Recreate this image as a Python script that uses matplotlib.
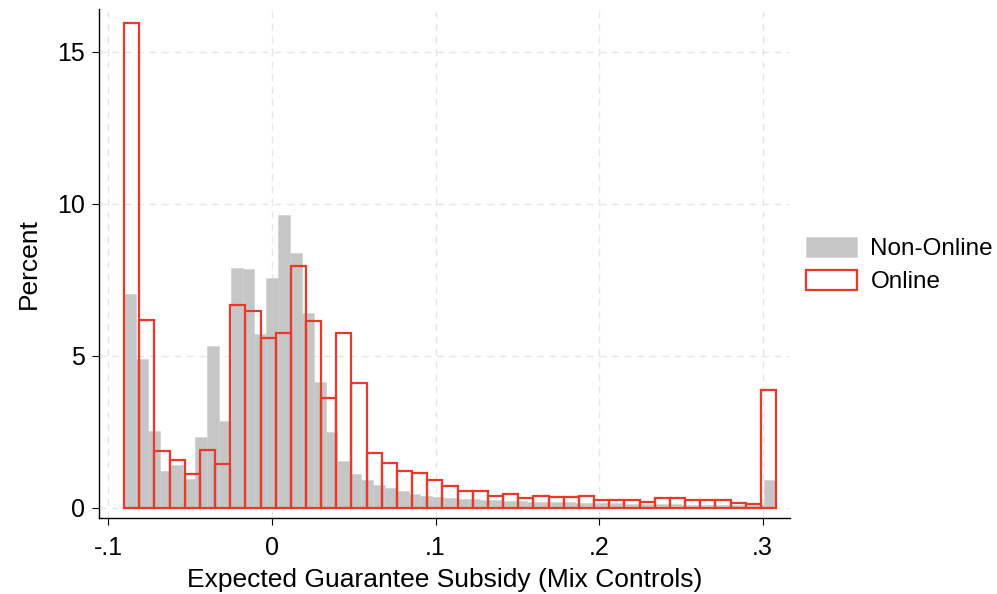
import numpy as np
import matplotlib
matplotlib.use("Agg")
import matplotlib.pyplot as plt

plt.rcParams['font.family'] = ['Liberation Sans', 'DejaVu Sans']

# histogram range (both series share roughly the same data range)
x_lo, x_hi = -0.0905, 0.3083

# Non-Online: 55 bins, percent
non_online = [7.02, 4.90, 2.54, 1.22, 1.42, 0.95, 2.34, 5.31, 2.85, 7.90,
              7.84, 5.70, 7.56, 9.63, 8.39, 6.41, 4.15, 2.48, 1.55, 1.13,
              0.92, 0.76, 0.64, 0.56, 0.47, 0.40, 0.36, 0.33, 0.30, 0.28,
              0.26, 0.25, 0.23, 0.22, 0.21, 0.20, 0.19, 0.18, 0.17, 0.16,
              0.15, 0.15, 0.14, 0.13, 0.13, 0.12, 0.12, 0.11, 0.11, 0.10,
              0.10, 0.09, 0.09, 0.08, 0.92]

# Online: 43 bins, percent
online = [15.95, 6.19, 1.86, 1.59, 1.11, 1.92, 1.44, 6.68, 6.47, 5.58,
          5.75, 7.95, 6.15, 3.61, 5.76, 4.09, 1.80, 1.47, 1.22, 1.16,
          0.91, 0.73, 0.56, 0.54, 0.40, 0.45, 0.33, 0.38, 0.36, 0.35,
          0.40, 0.26, 0.25, 0.25, 0.20, 0.32, 0.34, 0.26, 0.25, 0.26,
          0.17, 0.14, 3.89]

xticks = [-0.1, 0, 0.1, 0.2, 0.3]
xtick_labels = ["-.1", "0", ".1", ".2", ".3"]
yticks = [0, 5, 10, 15]

gray = "#c6c6c6"
red = "#e8392b"

fig = plt.figure(figsize=(9.97, 5.94), dpi=100)
ax = fig.add_axes([0.0993, 0.128, 0.6931, 0.857])

# non-online filled bars
edges_n = np.linspace(x_lo, x_hi, len(non_online) + 1)
ax.bar(edges_n[:-1], non_online, width=np.diff(edges_n), align='edge',
       color=gray, edgecolor="#cfcfcf", linewidth=0.4, label="Non-Online", zorder=2)

# online hollow bars
edges_o = np.linspace(x_lo, x_hi, len(online) + 1)
ax.bar(edges_o[:-1], online, width=np.diff(edges_o), align='edge',
       fill=False, edgecolor=red, linewidth=1.6, label="Online", zorder=3)

ax.set_xlim(-0.1058, 0.3168)
ax.set_ylim(-0.33, 16.4)
ax.set_xticks(xticks)
ax.set_xticklabels(xtick_labels)
ax.set_yticks(yticks)

ax.grid(True, color="#e6e6e6", linestyle=(0, (5, 4)), linewidth=1.0, zorder=0)
ax.set_axisbelow(True)

for s in ["top", "right"]:
    ax.spines[s].set_visible(False)
for s in ["left", "bottom"]:
    ax.spines[s].set_linewidth(1.0)
    ax.spines[s].set_color("black")
ax.tick_params(axis="both", direction="out", length=5, width=0.8, labelsize=18, pad=5)
ax.tick_params(axis="x", pad=8)

ax.set_xlabel("Expected Guarantee Subsidy (Mix Controls)", fontsize=19, labelpad=6)
ax.set_ylabel("Percent", fontsize=19, labelpad=12)

fig.legend(loc="center left", bbox_to_anchor=(806 / 997, 1 - 265 / 594),
           frameon=False, fontsize=17.5, handlelength=2.1, handleheight=0.9,
           handletextpad=0.55, labelspacing=0.4, borderpad=0, borderaxespad=0)

fig.savefig("out.png", dpi=100)
